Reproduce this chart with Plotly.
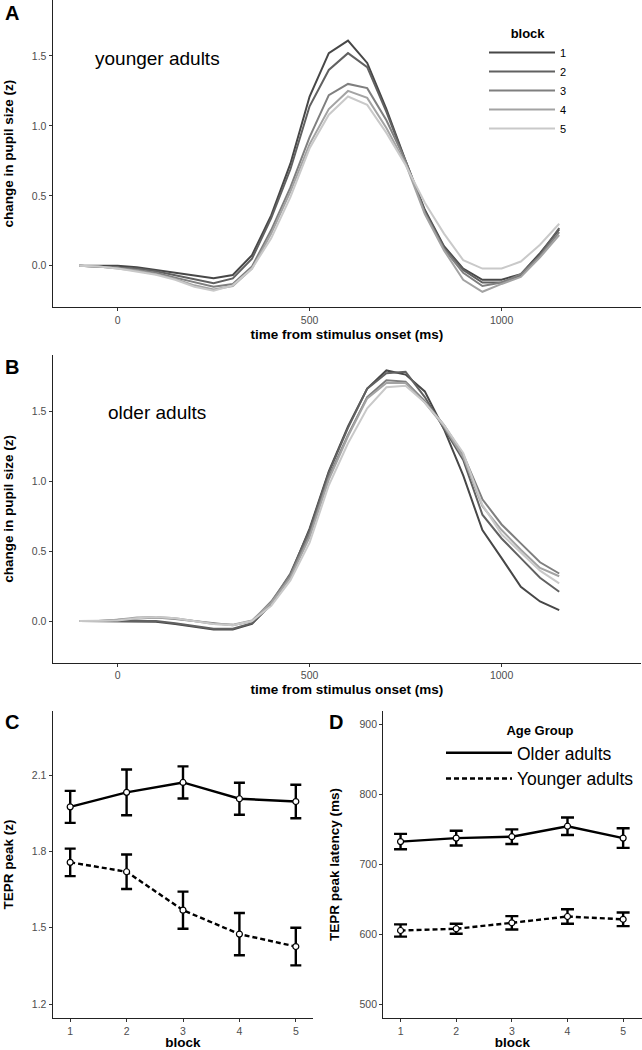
import plotly.graph_objects as go

# time axis (ms) of the pupil traces
time_ms = [-100, -50, 0, 50, 100, 150, 200, 250, 300, 350, 400, 450, 500,
           550, 600, 650, 700, 750, 800, 850, 900, 950, 1000, 1050, 1100, 1150]

blocks = ["1", "2", "3", "4", "5"]
block_colors = ["#474747", "#616161", "#7f7f7f", "#a3a3a3", "#c9c9c9"]

# panel A - younger adults, one list per block
young_b1 = [0, 0.0, 0.0, -0.01, -0.03, -0.05, -0.075, -0.09, -0.066, 0.076, 0.36, 0.73, 1.21,
            1.52, 1.61, 1.45, 1.12, 0.75, 0.40, 0.14, -0.02, -0.10, -0.10, -0.06, 0.09, 0.26]
young_b2 = [0, -0.005, -0.01, -0.02, -0.04, -0.07, -0.10, -0.125, -0.09, 0.05, 0.34, 0.69, 1.14,
            1.40, 1.52, 1.42, 1.10, 0.74, 0.39, 0.13, -0.03, -0.12, -0.12, -0.07, 0.08, 0.27]
young_b3 = [0, -0.005, -0.015, -0.03, -0.05, -0.085, -0.12, -0.15, -0.13, -0.005, 0.255, 0.56, 0.92,
            1.22, 1.30, 1.27, 1.04, 0.75, 0.38, 0.12, -0.05, -0.145, -0.12, -0.06, 0.07, 0.24]
young_b4 = [0, -0.005, -0.02, -0.035, -0.06, -0.095, -0.14, -0.17, -0.145, -0.02, 0.23, 0.53, 0.87,
            1.12, 1.25, 1.20, 0.985, 0.73, 0.37, 0.11, -0.10, -0.186, -0.13, -0.08, 0.06, 0.22]
young_b5 = [0, -0.005, -0.02, -0.04, -0.065, -0.10, -0.15, -0.178, -0.14, -0.02, 0.196, 0.49, 0.84,
            1.08, 1.21, 1.15, 0.95, 0.72, 0.45, 0.23, 0.04, -0.02, -0.02, 0.03, 0.15, 0.30]

# panel B - older adults
old_b1 = [0, 0.0, 0.0, -0.005, -0.005, -0.02, -0.04, -0.06, -0.06, -0.02, 0.12, 0.33, 0.66,
          1.07, 1.39, 1.66, 1.79, 1.76, 1.64, 1.37, 1.04, 0.65, 0.45, 0.245, 0.14, 0.079]
old_b2 = [0, 0.0, 0.0, -0.005, 0.0, -0.015, -0.035, -0.055, -0.055, -0.015, 0.13, 0.34, 0.65,
          1.06, 1.38, 1.66, 1.77, 1.78, 1.60, 1.38, 1.15, 0.76, 0.59, 0.45, 0.31, 0.21]
old_b3 = [0, 0.0, 0.01, 0.02, 0.025, 0.015, 0.0, -0.02, -0.03, 0.0, 0.14, 0.33, 0.62,
          1.03, 1.33, 1.60, 1.72, 1.71, 1.57, 1.40, 1.19, 0.87, 0.69, 0.555, 0.42, 0.34]
old_b4 = [0, 0.0, 0.01, 0.025, 0.03, 0.02, 0.0, -0.02, -0.025, 0.005, 0.13, 0.31, 0.60,
          1.01, 1.32, 1.59, 1.70, 1.70, 1.56, 1.39, 1.17, 0.82, 0.65, 0.51, 0.38, 0.32]
old_b5 = [0, 0.0, 0.005, 0.02, 0.03, 0.02, 0.0, -0.02, -0.03, 0.0, 0.11, 0.29, 0.56,
          0.97, 1.27, 1.52, 1.67, 1.68, 1.56, 1.40, 1.20, 0.83, 0.62, 0.49, 0.36, 0.27]

young_traces = [young_b1, young_b2, young_b3, young_b4, young_b5]
old_traces = [old_b1, old_b2, old_b3, old_b4, old_b5]

# panels C and D - per block means and error half widths
block_num = [1, 2, 3, 4, 5]
peak_old = [1.975, 2.032, 2.071, 2.007, 1.996]
peak_old_err = [0.063, 0.090, 0.063, 0.063, 0.066]
peak_young = [1.757, 1.720, 1.569, 1.475, 1.426]
peak_young_err = [0.054, 0.068, 0.073, 0.083, 0.074]

lat_old = [732, 737, 739, 754, 737]
lat_old_err = [11, 10.5, 10.5, 12.5, 14]
lat_young = [605, 607.5, 616, 625, 621]
lat_young_err = [8.8, 7.2, 9.5, 10.4, 9.7]

FONT = "Arial, Liberation Sans, sans-serif"
W, H = 642, 1050

fig = go.Figure()

for i, b in enumerate(blocks):
    fig.add_trace(go.Scatter(x=time_ms, y=young_traces[i], mode="lines", name=b,
                             line=dict(color=block_colors[i], width=2),
                             xaxis="x", yaxis="y", legend="legend"))
for i, b in enumerate(blocks):
    fig.add_trace(go.Scatter(x=time_ms, y=old_traces[i], mode="lines", name=b,
                             line=dict(color=block_colors[i], width=2), showlegend=False,
                             xaxis="x2", yaxis="y2"))

groups = [("Older adults", "solid", peak_old, peak_old_err, lat_old, lat_old_err),
          ("Younger adults", "5px,3px", peak_young, peak_young_err, lat_young, lat_young_err)]

for name, dash, pk, pk_err, lat, lat_err in groups:
    for ax, ay, vals, errs, w, leg in [("x3", "y3", pk, pk_err, 5.5, False),
                                       ("x4", "y4", lat, lat_err, 6.5, True)]:
        fig.add_trace(go.Scatter(x=block_num, y=vals, mode="lines", name=name,
                                 line=dict(color="black", width=2.4, dash=dash),
                                 showlegend=leg, legend="legend2", xaxis=ax, yaxis=ay))
        fig.add_trace(go.Scatter(x=block_num, y=vals, mode="markers", showlegend=False,
                                 marker=dict(color="white", size=6, line=dict(color="black", width=1.2)),
                                 error_y=dict(type="data", array=errs, color="black",
                                              thickness=2.4, width=w),
                                 xaxis=ax, yaxis=ay))

axis_base = dict(showline=True, linecolor="#222", linewidth=1.3, ticks="outside", ticklen=3,
                 tickcolor="#333", tickwidth=1, showgrid=False, zeroline=False,
                 tickfont=dict(family=FONT, size=10.5, color="#4d4d4d"))
title_font = dict(family=FONT, size=13.5, color="black", weight="bold")


def px_dom(a, b, total):
    return [a / total, b / total]


def py_dom(top, bottom):
    return [1 - bottom / H, 1 - top / H]


fig.update_layout(
    width=W, height=H, margin=dict(l=0, r=0, t=0, b=0),
    paper_bgcolor="white", plot_bgcolor="white",
    font=dict(family=FONT, color="black"),
    xaxis=dict(axis_base, domain=px_dom(52.7, 641, W), range=[-169, 1363], tickvals=[0, 500, 1000],
               anchor="y", title=dict(text="time from stimulus onset (ms)", font=title_font, standoff=4)),
    yaxis=dict(axis_base, domain=py_dom(0, 307.3), range=[-0.297, 1.9], tickvals=[0, 0.5, 1.0, 1.5],
               tickformat=".1f", anchor="x",
               title=dict(text="change in pupil size (z)", font=title_font, standoff=15)),
    xaxis2=dict(axis_base, domain=px_dom(52.7, 641, W), range=[-169, 1363], tickvals=[0, 500, 1000],
                anchor="y2", title=dict(text="time from stimulus onset (ms)", font=title_font, standoff=4)),
    yaxis2=dict(axis_base, domain=py_dom(355, 662.7), range=[-0.297, 1.9], tickvals=[0, 0.5, 1.0, 1.5],
                tickformat=".1f", anchor="x2",
                title=dict(text="change in pupil size (z)", font=title_font, standoff=15)),
    xaxis3=dict(axis_base, domain=px_dom(52.7, 313.3, W), range=[0.69, 5.31], tickvals=block_num,
                anchor="y3", title=dict(text="block", font=title_font, standoff=1)),
    yaxis3=dict(axis_base, domain=py_dom(710.7, 1018.3), range=[1.144, 2.353],
                tickvals=[1.2, 1.5, 1.8, 2.1], tickformat=".1f", anchor="x3",
                title=dict(text="TEPR peak (z)", font=title_font, standoff=15)),
    xaxis4=dict(axis_base, domain=px_dom(383.3, 641.5, W), range=[0.69, 5.33], tickvals=block_num,
                anchor="y4", title=dict(text="block", font=title_font, standoff=1)),
    yaxis4=dict(axis_base, domain=py_dom(710.7, 1018.3), range=[479.6, 919],
                tickvals=[500, 600, 700, 800, 900], anchor="x4",
                title=dict(text="TEPR peak latency (ms)", font=title_font, standoff=16)),
    legend=dict(x=484 / W, y=1 - 21 / H, xanchor="left", yanchor="top",
                bgcolor="rgba(0,0,0,0)", font=dict(family=FONT, size=11, color="black"),
                title=dict(text="block", side="top center", font=dict(family=FONT, size=13, weight="bold")),
                itemwidth=66, tracegroupgap=0),
    legend2=dict(x=441 / W, y=1 - 718 / H, xanchor="left", yanchor="top",
                 bgcolor="rgba(0,0,0,0)", font=dict(family=FONT, size=17.5, color="black"),
                 title=dict(text="Age Group", side="top center", font=dict(family=FONT, size=13, weight="bold")),
                 itemwidth=66, tracegroupgap=0),
)

# panel letters and group labels
for letter, xp, yp in [("A", 3, 13), ("B", 3, 367), ("C", 3, 722), ("D", 327, 722)]:
    fig.add_annotation(text=letter, xref="paper", yref="paper", x=xp / W, y=1 - yp / H,
                       xanchor="left", yanchor="middle", showarrow=False,
                       font=dict(family=FONT, size=20, color="black", weight="bold"))

fig.add_annotation(text="younger adults", xref="x", yref="y", x=-63, y=1.484, xanchor="left",
                   yanchor="middle", showarrow=False, font=dict(family=FONT, size=19, color="black"))
fig.add_annotation(text="older adults", xref="x2", yref="y2", x=-30, y=1.493, xanchor="left",
                   yanchor="middle", showarrow=False, font=dict(family=FONT, size=19, color="black"))

# the page's default 8px body margin would shift the whole figure
fig.write_html("out.html", config={"displayModeBar": False},
               post_script="document.body.style.margin='0';")
